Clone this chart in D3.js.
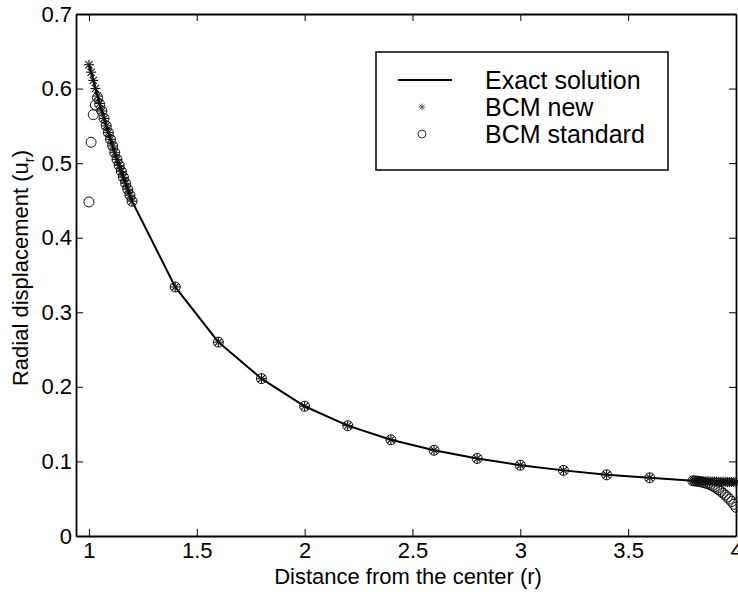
<!DOCTYPE html>
<html>
<head>
<meta charset="utf-8">
<script src="https://cdn.jsdelivr.net/npm/d3@7"></script>
<style>
  body { margin: 0; background: #fff; }
  svg { display: block; font-family: "Liberation Sans", Arial, Helvetica, sans-serif; }
</style>
</head>
<body>
<div id="chart"></div>
<script>
// sample positions (r)
const rValues = [
  1.00, 1.01, 1.02, 1.03, 1.04, 1.05, 1.06, 1.07, 1.08, 1.09, 1.10,
  1.11, 1.12, 1.13, 1.14, 1.15, 1.16, 1.17, 1.18, 1.19, 1.20,
  1.4, 1.6, 1.8, 2.0, 2.2, 2.4, 2.6, 2.8, 3.0, 3.2, 3.4, 3.6,
  3.80, 3.81, 3.82, 3.83, 3.84, 3.85, 3.86, 3.87, 3.88, 3.89, 3.90,
  3.91, 3.92, 3.93, 3.94, 3.95, 3.96, 3.97, 3.98, 3.99, 4.00
];

const exactSolution = [
  0.632, 0.622, 0.611, 0.600, 0.590, 0.580, 0.570, 0.560, 0.550, 0.541, 0.532,
  0.523, 0.514, 0.505, 0.497, 0.489, 0.481, 0.473, 0.465, 0.457, 0.449,
  0.334, 0.260, 0.211, 0.174, 0.148, 0.129, 0.115, 0.104, 0.095, 0.088, 0.082, 0.078,
  0.0740, 0.0739, 0.0738, 0.0737, 0.0736, 0.0735, 0.0734, 0.0733, 0.0732, 0.0731, 0.0730,
  0.0729, 0.0728, 0.0727, 0.0727, 0.0726, 0.0725, 0.0724, 0.0723, 0.0723, 0.0722
];

const bcmNew = [
  0.632, 0.622, 0.611, 0.600, 0.590, 0.580, 0.570, 0.560, 0.550, 0.541, 0.532,
  0.523, 0.514, 0.505, 0.497, 0.489, 0.481, 0.473, 0.465, 0.457, 0.449,
  0.334, 0.260, 0.211, 0.174, 0.148, 0.129, 0.115, 0.104, 0.095, 0.088, 0.082, 0.078,
  0.0740, 0.0739, 0.0738, 0.0737, 0.0736, 0.0735, 0.0734, 0.0733, 0.0732, 0.0731, 0.0730,
  0.0729, 0.0728, 0.0727, 0.0727, 0.0726, 0.0725, 0.0724, 0.0723, 0.0723, 0.0722
];

const bcmStandard = [
  0.448, 0.528, 0.565, 0.578, 0.588, 0.579, 0.570, 0.560, 0.550, 0.541, 0.532,
  0.523, 0.514, 0.505, 0.497, 0.489, 0.481, 0.473, 0.465, 0.457, 0.449,
  0.334, 0.260, 0.211, 0.174, 0.148, 0.129, 0.115, 0.104, 0.095, 0.088, 0.082, 0.078,
  0.0740, 0.0738, 0.0735, 0.0730, 0.0724, 0.0717, 0.0708, 0.0700, 0.0690, 0.0675, 0.0658,
  0.0640, 0.0620, 0.0598, 0.0575, 0.0550, 0.0523, 0.0494, 0.0462, 0.0425, 0.0385
];

const xTicks = [1, 1.5, 2, 2.5, 3, 3.5, 4];
const yTicks = [0, 0.1, 0.2, 0.3, 0.4, 0.5, 0.6, 0.7];
const legendLabels = ["Exact solution", "BCM new", "BCM standard"];

const width = 738, height = 592;
const margin = { top: 14, right: 2, bottom: 56, left: 76 };

const svg = d3.select("#chart").append("svg")
  .attr("width", width)
  .attr("height", height);

const x = d3.scaleLinear().domain([0.94, 4]).range([margin.left, width - margin.right]);
const y = d3.scaleLinear().domain([0, 0.7]).range([height - margin.bottom, margin.top]);

const tickLen = 7;

// axes, ticks pointing inward on all four sides
const gBottom = svg.append("g")
  .attr("transform", `translate(0,${y(0)})`)
  .call(d3.axisBottom(x).tickValues(xTicks).tickSize(-tickLen).tickSizeOuter(0)
    .tickFormat(d3.format("")).tickPadding(6));
const gTop = svg.append("g")
  .attr("transform", `translate(0,${y(0.7)})`)
  .call(d3.axisTop(x).tickValues(xTicks).tickSize(-tickLen).tickSizeOuter(0).tickFormat(""));
const gLeft = svg.append("g")
  .attr("transform", `translate(${x(0.94)},0)`)
  .call(d3.axisLeft(y).tickValues(yTicks).tickSize(-tickLen).tickSizeOuter(0)
    .tickFormat(d3.format("")).tickPadding(4));
const gRight = svg.append("g")
  .attr("transform", `translate(${x(4)},0)`)
  .call(d3.axisRight(y).tickValues(yTicks).tickSize(-tickLen).tickSizeOuter(0).tickFormat(""));

[gBottom, gTop, gLeft, gRight].forEach(g => {
  g.select(".domain").attr("stroke", "#000").attr("stroke-width", 1.8);
  g.selectAll(".tick line").attr("stroke", "#000").attr("stroke-width", 1);
  g.selectAll("text").attr("fill", "#000").attr("font-size", 22)
    .attr("font-family", "Liberation Sans, Arial, sans-serif");
});

// axis titles
svg.append("text")
  .attr("x", 408).attr("y", 584)
  .attr("text-anchor", "middle")
  .attr("font-size", 22)
  .text("Distance from the center (r)");

const yTitle = svg.append("text")
  .attr("transform", "translate(28,268) rotate(-90)")
  .attr("text-anchor", "middle")
  .attr("font-size", 22);
yTitle.append("tspan").text("Radial displacement (u");
yTitle.append("tspan").attr("font-size", 15).attr("dy", 6).text("r");
yTitle.append("tspan").attr("dy", -6).text(")");

const points = rValues.map((r, i) => ({ r, exact: exactSolution[i], bnew: bcmNew[i], bstd: bcmStandard[i] }));

// exact solution line
const line = d3.line().x(d => x(d.r)).y(d => y(d.exact));
svg.append("path")
  .datum(points)
  .attr("d", line)
  .attr("fill", "none")
  .attr("stroke", "#000")
  .attr("stroke-width", 2);

function asterisk(g, s) {
  const d = s * 0.72;
  g.append("line").attr("x1", -s).attr("x2", s).attr("y1", 0).attr("y2", 0);
  g.append("line").attr("x1", 0).attr("x2", 0).attr("y1", -s).attr("y2", s);
  g.append("line").attr("x1", -d).attr("x2", d).attr("y1", -d).attr("y2", d);
  g.append("line").attr("x1", -d).attr("x2", d).attr("y1", d).attr("y2", -d);
}

// BCM standard (circles)
svg.append("g").selectAll("circle")
  .data(points)
  .join("circle")
  .attr("cx", d => x(d.r))
  .attr("cy", d => y(d.bstd))
  .attr("r", 5)
  .attr("fill", "none")
  .attr("stroke", "#111")
  .attr("stroke-width", 1);

// BCM new (asterisks)
svg.append("g").selectAll("g")
  .data(points)
  .join("g")
  .attr("transform", d => `translate(${x(d.r)},${y(d.bnew)})`)
  .attr("stroke", "#111")
  .attr("stroke-width", 1.1)
  .each(function () { asterisk(d3.select(this), 5); });

// legend
const lg = svg.append("g");
lg.append("rect")
  .attr("x", 376).attr("y", 52).attr("width", 292).attr("height", 118)
  .attr("fill", "#fff").attr("stroke", "#000").attr("stroke-width", 1.5);
const rowY = [80, 107, 134];
lg.append("line")
  .attr("x1", 398).attr("x2", 452).attr("y1", rowY[0]).attr("y2", rowY[0])
  .attr("stroke", "#000").attr("stroke-width", 2);
const la = lg.append("g").attr("transform", `translate(422,${rowY[1]})`)
  .attr("stroke", "#444").attr("stroke-width", 0.8);
asterisk(la, 3.5);
lg.append("circle").attr("cx", 422).attr("cy", rowY[2]).attr("r", 4)
  .attr("fill", "none").attr("stroke", "#222").attr("stroke-width", 0.9);
lg.selectAll("text.lbl")
  .data(legendLabels)
  .join("text")
  .attr("class", "lbl")
  .attr("x", 485)
  .attr("y", (d, i) => rowY[i] + 9)
  .attr("font-size", 25)
  .text(d => d);
</script>
</body>
</html>
